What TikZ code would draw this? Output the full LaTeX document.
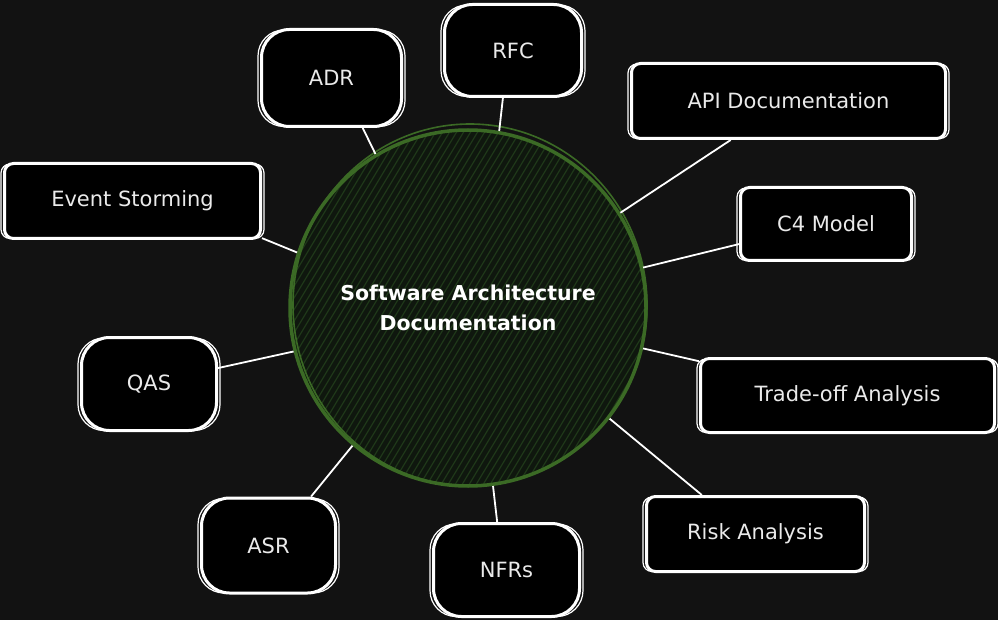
\documentclass[tikz,border=0pt]{standalone}
\usepackage{fontspec}
\setmainfont{DejaVu Sans}
\usetikzlibrary{calc}
\definecolor{bgc}{HTML}{121212}
\definecolor{gline}{HTML}{3B6A25}
\definecolor{gfill}{HTML}{0F170E}
\definecolor{ghatch}{HTML}{1F3819}
\definecolor{txt}{HTML}{EAEAEA}
\begin{document}
\begin{tikzpicture}[x=1pt,y=-1pt,
  box/.style={draw=white, fill=black, line width=3pt, inner sep=0pt, text=txt,
              font=\fontsize{21}{25}\selectfont},
  roundbox/.style={box, rounded corners=28pt},
  flatbox/.style={box, rounded corners=9pt},
  sketch/.style={draw=white, line width=1.2pt},
  link/.style={draw=white, line width=1.8pt},
  hub/.style={circle, draw=gline, line width=3.5pt, inner sep=0pt, minimum size=356pt,
              text=white, align=center, font=\bfseries\fontsize{20.5}{30}\selectfont}
]
\fill[bgc] (0,0) rectangle (998,620);
\useasboundingbox (0,0) rectangle (998,620);

% hatched fill of the hub
\begin{scope}
  \clip (468,308) circle (178pt);
  \fill[gfill] (468,308) circle (178pt);
  \foreach \i in {-390,-383,...,390}
    \draw[ghatch, line width=1.2pt] ({468+\i-120},508) -- ({468+\i+120},108);
\end{scope}
\draw[gline, line width=1.6pt] (470,305) ellipse (177pt and 181pt);

\node[hub] (c) at (468,308) {Software Architecture\\Documentation};

% boxes
\node[roundbox, minimum width=140pt, minimum height=97pt] (adr)   at (331.5,78)  {ADR};
\node[roundbox, minimum width=137pt, minimum height=92pt] (rfc)   at (513,50.5)  {RFC};
\node[flatbox,  minimum width=314pt, minimum height=75pt] (api)   at (788.5,101) {API Documentation};
\node[flatbox,  minimum width=171pt, minimum height=73pt] (c4)    at (826,224)   {C4 Model};
\node[flatbox,  minimum width=256pt, minimum height=75pt] (es)    at (132.5,201) {Event Storming};
\node[roundbox, minimum width=135pt, minimum height=93pt] (qas)   at (149,384)   {QAS};
\node[flatbox,  minimum width=294pt, minimum height=74pt] (trade) at (847.5,395.5) {Trade-off Analysis};
\node[flatbox,  minimum width=218pt, minimum height=75pt] (risk)  at (755.5,534) {Risk Analysis};
\node[roundbox, minimum width=134pt, minimum height=95pt] (asr)   at (268.5,545.5) {ASR};
\node[roundbox, minimum width=146pt, minimum height=93pt] (nfrs)  at (506.5,570) {NFRs};

% second sketchy strokes
\foreach \n/\r in {adr/26,rfc/26,qas/26,asr/26,nfrs/26,api/9,c4/9,es/9,trade/9,risk/9}
  \draw[sketch, rounded corners=\r pt] ([shift={(-2,2)}]\n.north west) rectangle ([shift={(2,-1.5)}]\n.south east);

% connectors
\draw[link] (c.121)   -- (adr.-58.6);
\draw[link] (c.80.3)  -- (rfc.-102.5);
\draw[link] (c.32.8)  -- (api.-146.3);
\draw[link] (c.13.4)  -- (c4.-167.7);
\draw[link] (c.-13.1) -- (trade.167.3);
\draw[link] (c.-38.9) -- (risk.144.9);
\draw[link] (c.-82)   -- (nfrs.101.2);
\draw[link] (c.-130)  -- (asr.49.4);
\draw[link] (c.-166.5) -- (qas.13);
\draw[link] (c.162.2) -- (es.-16);
\end{tikzpicture}
\end{document}
